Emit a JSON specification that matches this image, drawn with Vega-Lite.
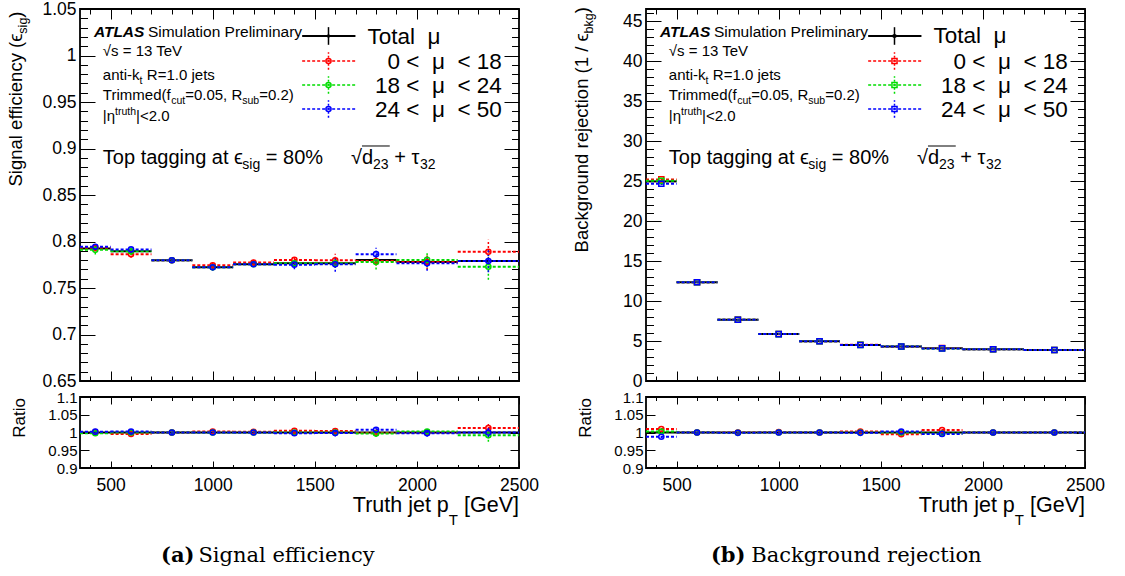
{
"$schema":"https://vega.github.io/schema/vega-lite/v6.json",
"background":"white",
"padding":{"left":6,"top":-1,"right":0,"bottom":0},
"datasets":{
"sig":[
{"s":"Total","x":425,"x0":350,"x1":500,"y":0.7925,"lo":0.7905,"hi":0.7945,"r":1,"rlo":1,"rhi":1},
{"s":"Total","x":600,"x0":500,"x1":700,"y":0.7895,"lo":0.7875,"hi":0.7915,"r":1,"rlo":1,"rhi":1},
{"s":"Total","x":800,"x0":700,"x1":900,"y":0.7798,"lo":0.7778,"hi":0.7818,"r":1,"rlo":1,"rhi":1},
{"s":"Total","x":1000,"x0":900,"x1":1100,"y":0.7722,"lo":0.7702,"hi":0.7742,"r":1,"rlo":1,"rhi":1},
{"s":"Total","x":1200,"x0":1100,"x1":1300,"y":0.7755,"lo":0.7735,"hi":0.7775,"r":1,"rlo":1,"rhi":1},
{"s":"Total","x":1400,"x0":1300,"x1":1500,"y":0.7765,"lo":0.7745,"hi":0.7785,"r":1,"rlo":1,"rhi":1},
{"s":"Total","x":1600,"x0":1500,"x1":1700,"y":0.7765,"lo":0.7735,"hi":0.7795,"r":1,"rlo":1,"rhi":1},
{"s":"Total","x":1800,"x0":1700,"x1":1900,"y":0.7802,"lo":0.7772,"hi":0.7832,"r":1,"rlo":1,"rhi":1},
{"s":"Total","x":2050,"x0":1900,"x1":2200,"y":0.778,"lo":0.775,"hi":0.781,"r":1,"rlo":1,"rhi":1},
{"s":"Total","x":2350,"x0":2200,"x1":2500,"y":0.7791,"lo":0.7751,"hi":0.7831,"r":1,"rlo":1,"rhi":1},
{"s":"0-18","x":425,"x0":350,"x1":500,"y":0.7933,"lo":0.7893,"hi":0.7973,"r":1.001,"rlo":0.996,"rhi":1.006},
{"s":"0-18","x":600,"x0":500,"x1":700,"y":0.7864,"lo":0.7824,"hi":0.7904,"r":0.9961,"rlo":0.9911,"rhi":1.0011},
{"s":"0-18","x":800,"x0":700,"x1":900,"y":0.7798,"lo":0.7768,"hi":0.7828,"r":1.0,"rlo":0.996,"rhi":1.004},
{"s":"0-18","x":1000,"x0":900,"x1":1100,"y":0.7744,"lo":0.7714,"hi":0.7774,"r":1.0028,"rlo":0.9988,"rhi":1.0068},
{"s":"0-18","x":1200,"x0":1100,"x1":1300,"y":0.7773,"lo":0.7743,"hi":0.7803,"r":1.0023,"rlo":0.9983,"rhi":1.0063},
{"s":"0-18","x":1400,"x0":1300,"x1":1500,"y":0.7802,"lo":0.7762,"hi":0.7842,"r":1.0048,"rlo":0.9998,"rhi":1.0098},
{"s":"0-18","x":1600,"x0":1500,"x1":1700,"y":0.7798,"lo":0.7728,"hi":0.7868,"r":1.0042,"rlo":0.9952,"rhi":1.0132},
{"s":"0-18","x":1800,"x0":1700,"x1":1900,"y":0.7791,"lo":0.7741,"hi":0.7841,"r":0.9986,"rlo":0.9926,"rhi":1.0046},
{"s":"0-18","x":2050,"x0":1900,"x1":2200,"y":0.778,"lo":0.77,"hi":0.786,"r":1.0,"rlo":0.99,"rhi":1.01},
{"s":"0-18","x":2350,"x0":2200,"x1":2500,"y":0.7889,"lo":0.7759,"hi":0.8019,"r":1.0126,"rlo":0.9956,"rhi":1.0296},
{"s":"18-24","x":425,"x0":350,"x1":500,"y":0.791,"lo":0.786,"hi":0.796,"r":0.998,"rlo":0.992,"rhi":1.004},
{"s":"18-24","x":600,"x0":500,"x1":700,"y":0.7895,"lo":0.7855,"hi":0.7935,"r":1.0,"rlo":0.995,"rhi":1.005},
{"s":"18-24","x":800,"x0":700,"x1":900,"y":0.7798,"lo":0.7768,"hi":0.7828,"r":1.0,"rlo":0.996,"rhi":1.004},
{"s":"18-24","x":1000,"x0":900,"x1":1100,"y":0.7722,"lo":0.7692,"hi":0.7752,"r":1.0,"rlo":0.996,"rhi":1.004},
{"s":"18-24","x":1200,"x0":1100,"x1":1300,"y":0.7755,"lo":0.7725,"hi":0.7785,"r":1.0,"rlo":0.996,"rhi":1.004},
{"s":"18-24","x":1400,"x0":1300,"x1":1500,"y":0.7765,"lo":0.7725,"hi":0.7805,"r":1.0,"rlo":0.995,"rhi":1.005},
{"s":"18-24","x":1600,"x0":1500,"x1":1700,"y":0.7765,"lo":0.7715,"hi":0.7815,"r":1.0,"rlo":0.994,"rhi":1.006},
{"s":"18-24","x":1800,"x0":1700,"x1":1900,"y":0.778,"lo":0.77,"hi":0.786,"r":0.9972,"rlo":0.9872,"rhi":1.0072},
{"s":"18-24","x":2050,"x0":1900,"x1":2200,"y":0.7802,"lo":0.7722,"hi":0.7882,"r":1.0028,"rlo":0.9928,"rhi":1.0128},
{"s":"18-24","x":2350,"x0":2200,"x1":2500,"y":0.7729,"lo":0.7589,"hi":0.7869,"r":0.992,"rlo":0.974,"rhi":1.01},
{"s":"24-50","x":425,"x0":350,"x1":500,"y":0.7944,"lo":0.7904,"hi":0.7984,"r":1.0024,"rlo":0.9974,"rhi":1.0074},
{"s":"24-50","x":600,"x0":500,"x1":700,"y":0.7915,"lo":0.7875,"hi":0.7955,"r":1.0025,"rlo":0.9975,"rhi":1.0075},
{"s":"24-50","x":800,"x0":700,"x1":900,"y":0.7798,"lo":0.7768,"hi":0.7828,"r":1.0,"rlo":0.996,"rhi":1.004},
{"s":"24-50","x":1000,"x0":900,"x1":1100,"y":0.7722,"lo":0.7692,"hi":0.7752,"r":1.0,"rlo":0.996,"rhi":1.004},
{"s":"24-50","x":1200,"x0":1100,"x1":1300,"y":0.7755,"lo":0.7725,"hi":0.7785,"r":1.0,"rlo":0.996,"rhi":1.004},
{"s":"24-50","x":1400,"x0":1300,"x1":1500,"y":0.7751,"lo":0.7701,"hi":0.7801,"r":0.9982,"rlo":0.9922,"rhi":1.0042},
{"s":"24-50","x":1600,"x0":1500,"x1":1700,"y":0.7755,"lo":0.7675,"hi":0.7835,"r":0.9987,"rlo":0.9887,"rhi":1.0087},
{"s":"24-50","x":1800,"x0":1700,"x1":1900,"y":0.7864,"lo":0.7794,"hi":0.7934,"r":1.0079,"rlo":0.9989,"rhi":1.0169},
{"s":"24-50","x":2050,"x0":1900,"x1":2200,"y":0.7765,"lo":0.7685,"hi":0.7845,"r":0.9981,"rlo":0.9881,"rhi":1.0081},
{"s":"24-50","x":2350,"x0":2200,"x1":2500,"y":0.7789,"lo":0.7669,"hi":0.7909,"r":0.9997,"rlo":0.9847,"rhi":1.0147}
],
"rej":[
{"s":"Total","x":425,"x0":350,"x1":500,"y":24.95,"lo":24.87,"hi":25.03,"r":1,"rlo":1,"rhi":1},
{"s":"Total","x":600,"x0":500,"x1":700,"y":12.35,"lo":12.31,"hi":12.39,"r":1,"rlo":1,"rhi":1},
{"s":"Total","x":800,"x0":700,"x1":900,"y":7.67,"lo":7.64,"hi":7.7,"r":1,"rlo":1,"rhi":1},
{"s":"Total","x":1000,"x0":900,"x1":1100,"y":5.86,"lo":5.84,"hi":5.88,"r":1,"rlo":1,"rhi":1},
{"s":"Total","x":1200,"x0":1100,"x1":1300,"y":4.97,"lo":4.95,"hi":4.99,"r":1,"rlo":1,"rhi":1},
{"s":"Total","x":1400,"x0":1300,"x1":1500,"y":4.51,"lo":4.49,"hi":4.53,"r":1,"rlo":1,"rhi":1},
{"s":"Total","x":1600,"x0":1500,"x1":1700,"y":4.3,"lo":4.28,"hi":4.32,"r":1,"rlo":1,"rhi":1},
{"s":"Total","x":1800,"x0":1700,"x1":1900,"y":4.09,"lo":4.07,"hi":4.11,"r":1,"rlo":1,"rhi":1},
{"s":"Total","x":2050,"x0":1900,"x1":2200,"y":3.96,"lo":3.94,"hi":3.98,"r":1,"rlo":1,"rhi":1},
{"s":"Total","x":2350,"x0":2200,"x1":2500,"y":3.88,"lo":3.86,"hi":3.9,"r":1,"rlo":1,"rhi":1},
{"s":"0-18","x":425,"x0":350,"x1":500,"y":25.2,"lo":25.05,"hi":25.35,"r":1.01,"rlo":1.006,"rhi":1.014},
{"s":"0-18","x":600,"x0":500,"x1":700,"y":12.35,"lo":12.27,"hi":12.43,"r":1.0,"rlo":0.996,"rhi":1.004},
{"s":"0-18","x":800,"x0":700,"x1":900,"y":7.67,"lo":7.62,"hi":7.72,"r":1.0,"rlo":0.996,"rhi":1.004},
{"s":"0-18","x":1000,"x0":900,"x1":1100,"y":5.866,"lo":5.826,"hi":5.906,"r":1.001,"rlo":0.997,"rhi":1.005},
{"s":"0-18","x":1200,"x0":1100,"x1":1300,"y":4.97,"lo":4.94,"hi":5.0,"r":1.0,"rlo":0.996,"rhi":1.004},
{"s":"0-18","x":1400,"x0":1300,"x1":1500,"y":4.524,"lo":4.494,"hi":4.554,"r":1.003,"rlo":0.999,"rhi":1.007},
{"s":"0-18","x":1600,"x0":1500,"x1":1700,"y":4.279,"lo":4.249,"hi":4.309,"r":0.995,"rlo":0.991,"rhi":0.999},
{"s":"0-18","x":1800,"x0":1700,"x1":1900,"y":4.119,"lo":4.089,"hi":4.149,"r":1.007,"rlo":1.003,"rhi":1.011},
{"s":"0-18","x":2050,"x0":1900,"x1":2200,"y":3.96,"lo":3.93,"hi":3.99,"r":1.0,"rlo":0.996,"rhi":1.004},
{"s":"0-18","x":2350,"x0":2200,"x1":2500,"y":3.88,"lo":3.85,"hi":3.91,"r":1.0,"rlo":0.996,"rhi":1.004},
{"s":"18-24","x":425,"x0":350,"x1":500,"y":25.02,"lo":24.87,"hi":25.17,"r":1.003,"rlo":0.999,"rhi":1.007},
{"s":"18-24","x":600,"x0":500,"x1":700,"y":12.35,"lo":12.27,"hi":12.43,"r":1.0,"rlo":0.996,"rhi":1.004},
{"s":"18-24","x":800,"x0":700,"x1":900,"y":7.662,"lo":7.612,"hi":7.712,"r":0.999,"rlo":0.995,"rhi":1.003},
{"s":"18-24","x":1000,"x0":900,"x1":1100,"y":5.86,"lo":5.82,"hi":5.9,"r":1.0,"rlo":0.996,"rhi":1.004},
{"s":"18-24","x":1200,"x0":1100,"x1":1300,"y":4.97,"lo":4.94,"hi":5.0,"r":1.0,"rlo":0.996,"rhi":1.004},
{"s":"18-24","x":1400,"x0":1300,"x1":1500,"y":4.51,"lo":4.48,"hi":4.54,"r":1.0,"rlo":0.996,"rhi":1.004},
{"s":"18-24","x":1600,"x0":1500,"x1":1700,"y":4.3,"lo":4.27,"hi":4.33,"r":1.0,"rlo":0.996,"rhi":1.004},
{"s":"18-24","x":1800,"x0":1700,"x1":1900,"y":4.078,"lo":4.048,"hi":4.108,"r":0.997,"rlo":0.993,"rhi":1.001},
{"s":"18-24","x":2050,"x0":1900,"x1":2200,"y":3.96,"lo":3.93,"hi":3.99,"r":1.0,"rlo":0.996,"rhi":1.004},
{"s":"18-24","x":2350,"x0":2200,"x1":2500,"y":3.88,"lo":3.85,"hi":3.91,"r":1.0,"rlo":0.996,"rhi":1.004},
{"s":"24-50","x":425,"x0":350,"x1":500,"y":24.65,"lo":24.5,"hi":24.8,"r":0.988,"rlo":0.984,"rhi":0.992},
{"s":"24-50","x":600,"x0":500,"x1":700,"y":12.35,"lo":12.27,"hi":12.43,"r":1.0,"rlo":0.996,"rhi":1.004},
{"s":"24-50","x":800,"x0":700,"x1":900,"y":7.662,"lo":7.612,"hi":7.712,"r":0.999,"rlo":0.995,"rhi":1.003},
{"s":"24-50","x":1000,"x0":900,"x1":1100,"y":5.86,"lo":5.82,"hi":5.9,"r":1.0,"rlo":0.996,"rhi":1.004},
{"s":"24-50","x":1200,"x0":1100,"x1":1300,"y":4.97,"lo":4.94,"hi":5.0,"r":1.0,"rlo":0.996,"rhi":1.004},
{"s":"24-50","x":1400,"x0":1300,"x1":1500,"y":4.505,"lo":4.475,"hi":4.535,"r":0.999,"rlo":0.995,"rhi":1.003},
{"s":"24-50","x":1600,"x0":1500,"x1":1700,"y":4.313,"lo":4.283,"hi":4.343,"r":1.003,"rlo":0.999,"rhi":1.007},
{"s":"24-50","x":1800,"x0":1700,"x1":1900,"y":4.074,"lo":4.044,"hi":4.104,"r":0.996,"rlo":0.992,"rhi":1.0},
{"s":"24-50","x":2050,"x0":1900,"x1":2200,"y":3.96,"lo":3.93,"hi":3.99,"r":1.0,"rlo":0.996,"rhi":1.004},
{"s":"24-50","x":2350,"x0":2200,"x1":2500,"y":3.88,"lo":3.85,"hi":3.91,"r":1.0,"rlo":0.996,"rhi":1.004}
]
},
"columns":2,
"spacing":{"row":16,"column":127},
"bounds":"flush",
"align":"each",
"concat":[
{"width":439,"height":372,"data":{"values":[{}]},
"resolve":{"axis":{"x":"independent","y":"independent"}},
"layer":[
{"data":{"name":"sig"},"transform":[{"filter":"datum.s=='Total'"}],"mark":{"type":"rule","color":"black","strokeWidth":2},
"encoding":{"x":{"field":"x0","type":"quantitative","scale":{"domain":[350,2500],"nice":false,"zero":false},"axis":{"orient":"bottom","values":[500,1000,1500,2000,2500],"labels":false,"tickSize":-10}},"x2":{"field":"x1"},
"y":{"field":"y","type":"quantitative","scale":{"domain":[0.65,1.05],"nice":false,"zero":false},"axis":{"orient":"left","values":[0.65,0.7,0.75,0.8,0.85,0.9,0.95,1,1.05],"ticks":false,"labelPadding":4}}}},
{"data":{"name":"sig"},"transform":[{"filter":"datum.s=='Total'"}],"mark":{"type":"rule","color":"black","strokeWidth":1.5},
"encoding":{"x":{"field":"x","type":"quantitative","scale":{"domain":[350,2500],"nice":false,"zero":false},"axis":{"orient":"top","values":[500,1000,1500,2000,2500],"labels":false,"tickSize":-10}},
"y":{"field":"lo","type":"quantitative","scale":{"domain":[0.65,1.05],"nice":false,"zero":false},"axis":{"orient":"left","values":[0.65,0.7,0.75,0.8,0.85,0.9,0.95,1,1.05],"labels":false,"tickSize":-15}},"y2":{"field":"hi"}}},
{"data":{"name":"sig"},"transform":[{"filter":"datum.s!='Total'"}],"mark":{"type":"rule","strokeWidth":2,"strokeDash":[3,2]},
"encoding":{"x":{"field":"x0","type":"quantitative","scale":{"domain":[350,2500],"nice":false,"zero":false},"axis":{"orient":"bottom","values":[400,600,700,800,900,1100,1200,1300,1400,1600,1700,1800,1900,2100,2200,2300,2400],"labels":false,"tickSize":-5}},"x2":{"field":"x1"},
"y":{"field":"y","type":"quantitative","scale":{"domain":[0.65,1.05],"nice":false,"zero":false},"axis":{"orient":"right","values":[0.65,0.7,0.75,0.8,0.85,0.9,0.95,1,1.05],"labels":false,"tickSize":-15}},
"color":{"field":"s","type":"nominal","scale":{"domain":["Total","0-18","18-24","24-50"],"range":["#000000","#ff0000","#00dd00","#0000ff"]},"legend":null}}},
{"data":{"name":"sig"},"transform":[{"filter":"datum.s!='Total'"}],"mark":{"type":"rule","strokeWidth":1.5,"strokeDash":[2,2]},
"encoding":{"x":{"field":"x","type":"quantitative","scale":{"domain":[350,2500],"nice":false,"zero":false},"axis":{"orient":"top","values":[400,600,700,800,900,1100,1200,1300,1400,1600,1700,1800,1900,2100,2200,2300,2400],"labels":false,"tickSize":-5}},
"y":{"field":"lo","type":"quantitative","scale":{"domain":[0.65,1.05],"nice":false,"zero":false},"axis":{"orient":"left","values":[0.66,0.67,0.68,0.69,0.71,0.72,0.73,0.74,0.76,0.77,0.78,0.79,0.81,0.82,0.83,0.84,0.86,0.87,0.88,0.89,0.91,0.92,0.93,0.94,0.96,0.97,0.98,0.99,1.01,1.02,1.03,1.04],"labels":false,"tickSize":-7.5}},"y2":{"field":"hi"},
"color":{"field":"s","type":"nominal","scale":{"domain":["Total","0-18","18-24","24-50"],"range":["#000000","#ff0000","#00dd00","#0000ff"]},"legend":null}}},
{"data":{"name":"sig"},"transform":[{"filter":"datum.s!='Total'"}],"mark":{"type":"point","shape":"circle","filled":false,"size":26,"strokeWidth":1.5,"opacity":1},
"encoding":{"x":{"field":"x","type":"quantitative","scale":{"domain":[350,2500],"nice":false,"zero":false},"axis":null},
"y":{"field":"y","type":"quantitative","scale":{"domain":[0.65,1.05],"nice":false,"zero":false},"axis":{"orient":"right","values":[0.66,0.67,0.68,0.69,0.71,0.72,0.73,0.74,0.76,0.77,0.78,0.79,0.81,0.82,0.83,0.84,0.86,0.87,0.88,0.89,0.91,0.92,0.93,0.94,0.96,0.97,0.98,0.99,1.01,1.02,1.03,1.04],"labels":false,"tickSize":-7.5}},
"color":{"field":"s","type":"nominal","scale":{"domain":["Total","0-18","18-24","24-50"],"range":["#000000","#ff0000","#00dd00","#0000ff"]},"legend":null}}},
{"mark":{"type":"text","text":"ATLAS","fontSize":15.5,"fontWeight":"bold","fontStyle":"italic"},"encoding":{"x":{"datum":418,"axis":null},"y":{"datum":1.0195,"axis":null}}},
{"mark":{"type":"text","text":"Simulation Preliminary","fontSize":15.5,"dx":54},"encoding":{"x":{"datum":418,"axis":null},"y":{"datum":1.0195,"axis":null}}},
{"mark":{"type":"text","text":"√s = 13 TeV","fontSize":15},"encoding":{"x":{"datum":462,"axis":null},"y":{"datum":0.999,"axis":null}}},
{"mark":{"type":"text","text":"anti-k","fontSize":15},"encoding":{"x":{"datum":462,"axis":null},"y":{"datum":0.9732,"axis":null}}},
{"mark":{"type":"text","text":"t","fontSize":10.5,"dx":36.7,"dy":4},"encoding":{"x":{"datum":462,"axis":null},"y":{"datum":0.9732,"axis":null}}},
{"mark":{"type":"text","text":"R=1.0 jets","fontSize":15,"dx":44},"encoding":{"x":{"datum":462,"axis":null},"y":{"datum":0.9732,"axis":null}}},
{"mark":{"type":"text","text":"Trimmed(f","fontSize":15},"encoding":{"x":{"datum":462,"axis":null},"y":{"datum":0.9517,"axis":null}}},
{"mark":{"type":"text","text":"cut","fontSize":10.5,"dx":68.3,"dy":4},"encoding":{"x":{"datum":462,"axis":null},"y":{"datum":0.9517,"axis":null}}},
{"mark":{"type":"text","text":"=0.05, R","fontSize":15,"dx":82.3},"encoding":{"x":{"datum":462,"axis":null},"y":{"datum":0.9517,"axis":null}}},
{"mark":{"type":"text","text":"sub","fontSize":10.5,"dx":139.4,"dy":4},"encoding":{"x":{"datum":462,"axis":null},"y":{"datum":0.9517,"axis":null}}},
{"mark":{"type":"text","text":"=0.2)","fontSize":15,"dx":156.3},"encoding":{"x":{"datum":462,"axis":null},"y":{"datum":0.9517,"axis":null}}},
{"mark":{"type":"text","text":"|η","fontSize":15},"encoding":{"x":{"datum":462,"axis":null},"y":{"datum":0.9291,"axis":null}}},
{"mark":{"type":"text","text":"truth","fontSize":10.5,"dx":12.2,"dy":-6},"encoding":{"x":{"datum":462,"axis":null},"y":{"datum":0.9291,"axis":null}}},
{"mark":{"type":"text","text":"|<2.0","fontSize":15,"dx":33.2},"encoding":{"x":{"datum":462,"axis":null},"y":{"datum":0.9291,"axis":null}}},
{"mark":{"type":"text","text":"Top tagging at ϵ","fontSize":20},"encoding":{"x":{"datum":462,"axis":null},"y":{"datum":0.8831,"axis":null}}},
{"mark":{"type":"text","text":"sig","fontSize":14,"dx":139.5,"dy":5},"encoding":{"x":{"datum":462,"axis":null},"y":{"datum":0.8831,"axis":null}}},
{"mark":{"type":"text","text":"= 80%","fontSize":20,"dx":163},"encoding":{"x":{"datum":462,"axis":null},"y":{"datum":0.8831,"axis":null}}},
{"mark":{"type":"text","text":"√d","fontSize":20},"encoding":{"x":{"datum":1677,"axis":null},"y":{"datum":0.8831,"axis":null}}},
{"mark":{"type":"text","text":"23","fontSize":14,"dx":22.1,"dy":5},"encoding":{"x":{"datum":1677,"axis":null},"y":{"datum":0.8831,"axis":null}}},
{"mark":{"type":"text","text":"+ τ","fontSize":20,"dx":43.3},"encoding":{"x":{"datum":1677,"axis":null},"y":{"datum":0.8831,"axis":null}}},
{"mark":{"type":"text","text":"32","fontSize":14,"dx":69.1,"dy":5},"encoding":{"x":{"datum":1677,"axis":null},"y":{"datum":0.8831,"axis":null}}},
{"mark":{"type":"rule","color":"black","strokeWidth":1},"encoding":{"x":{"datum":1731,"axis":null},"x2":{"datum":1867},"y":{"datum":0.9027,"axis":null}}},
{"mark":{"type":"rule","color":"black","strokeWidth":2},"encoding":{"x":{"datum":1438,"axis":null},"x2":{"datum":1699},"y":{"datum":1.021,"axis":null}}},
{"mark":{"type":"rule","color":"black","strokeWidth":1.5},"encoding":{"x":{"datum":1567,"axis":null},"y":{"datum":1.0115,"axis":null},"y2":{"datum":1.0305}}},
{"mark":{"type":"point","shape":"circle","filled":true,"color":"black","size":12,"opacity":1},"encoding":{"x":{"datum":1567,"axis":null},"y":{"datum":1.021,"axis":null}}},
{"mark":{"type":"text","text":"Total\u00a0\u00a0μ","fontSize":22.5},"encoding":{"x":{"datum":1758,"axis":null},"y":{"datum":1.0129,"axis":null}}},
{"mark":{"type":"rule","color":"#ff0000","strokeWidth":1.5,"strokeDash":[3,2]},"encoding":{"x":{"datum":1438,"axis":null},"x2":{"datum":1699},"y":{"datum":0.9941,"axis":null}}},
{"mark":{"type":"rule","color":"#ff0000","strokeWidth":1.5,"strokeDash":[2,2]},"encoding":{"x":{"datum":1567,"axis":null},"y":{"datum":0.9846,"axis":null},"y2":{"datum":1.0036}}},
{"mark":{"type":"point","shape":"circle","filled":false,"color":"#ff0000","size":26,"strokeWidth":1.5,"opacity":1},"encoding":{"x":{"datum":1567,"axis":null},"y":{"datum":0.9941,"axis":null}}},
{"mark":{"type":"text","text":"0 <\u00a0\u00a0μ\u00a0\u00a0< 18","fontSize":22.5,"align":"right"},"encoding":{"x":{"datum":2416,"axis":null},"y":{"datum":0.986,"axis":null}}},
{"mark":{"type":"rule","color":"#00dd00","strokeWidth":1.5,"strokeDash":[3,2]},"encoding":{"x":{"datum":1438,"axis":null},"x2":{"datum":1699},"y":{"datum":0.9683,"axis":null}}},
{"mark":{"type":"rule","color":"#00dd00","strokeWidth":1.5,"strokeDash":[2,2]},"encoding":{"x":{"datum":1567,"axis":null},"y":{"datum":0.9588,"axis":null},"y2":{"datum":0.9778}}},
{"mark":{"type":"point","shape":"circle","filled":false,"color":"#00dd00","size":26,"strokeWidth":1.5,"opacity":1},"encoding":{"x":{"datum":1567,"axis":null},"y":{"datum":0.9683,"axis":null}}},
{"mark":{"type":"text","text":"18 <\u00a0\u00a0μ\u00a0\u00a0< 24","fontSize":22.5,"align":"right"},"encoding":{"x":{"datum":2416,"axis":null},"y":{"datum":0.9602,"axis":null}}},
{"mark":{"type":"rule","color":"#0000ff","strokeWidth":1.5,"strokeDash":[3,2]},"encoding":{"x":{"datum":1438,"axis":null},"x2":{"datum":1699},"y":{"datum":0.9425,"axis":null}}},
{"mark":{"type":"rule","color":"#0000ff","strokeWidth":1.5,"strokeDash":[2,2]},"encoding":{"x":{"datum":1567,"axis":null},"y":{"datum":0.933,"axis":null},"y2":{"datum":0.952}}},
{"mark":{"type":"point","shape":"circle","filled":false,"color":"#0000ff","size":26,"strokeWidth":1.5,"opacity":1},"encoding":{"x":{"datum":1567,"axis":null},"y":{"datum":0.9425,"axis":null}}},
{"mark":{"type":"text","text":"24 <\u00a0\u00a0μ\u00a0\u00a0< 50","fontSize":22.5,"align":"right"},"encoding":{"x":{"datum":2416,"axis":null},"y":{"datum":0.9344,"axis":null}}},
{"mark":{"type":"text","text":"Signal efficiency (ϵ","fontSize":18.5,"angle":270,"align":"right"},"encoding":{"x":{"datum":66,"axis":null},"y":{"datum":1.0235,"axis":null}}},
{"mark":{"type":"text","text":"sig","fontSize":12.5,"angle":270,"align":"left","dy":4.5},"encoding":{"x":{"datum":66,"axis":null},"y":{"datum":1.0235,"axis":null}}},
{"mark":{"type":"text","text":")","fontSize":18.5,"angle":270,"align":"left","dx":16},"encoding":{"x":{"datum":66,"axis":null},"y":{"datum":1.0235,"axis":null}}}
]},
{"width":439,"height":372,"data":{"values":[{}]},
"resolve":{"axis":{"x":"independent","y":"independent"}},
"layer":[
{"data":{"name":"rej"},"transform":[{"filter":"datum.s=='Total'"}],"mark":{"type":"rule","color":"black","strokeWidth":2},
"encoding":{"x":{"field":"x0","type":"quantitative","scale":{"domain":[350,2500],"nice":false,"zero":false},"axis":{"orient":"bottom","values":[500,1000,1500,2000,2500],"labels":false,"tickSize":-10}},"x2":{"field":"x1"},
"y":{"field":"y","type":"quantitative","scale":{"domain":[0,46.5],"nice":false,"zero":false},"axis":{"orient":"left","values":[0,5,10,15,20,25,30,35,40,45],"ticks":false,"labelPadding":4}}}},
{"data":{"name":"rej"},"transform":[{"filter":"datum.s=='Total'"}],"mark":{"type":"rule","color":"black","strokeWidth":1.5},
"encoding":{"x":{"field":"x","type":"quantitative","scale":{"domain":[350,2500],"nice":false,"zero":false},"axis":{"orient":"top","values":[500,1000,1500,2000,2500],"labels":false,"tickSize":-10}},
"y":{"field":"lo","type":"quantitative","scale":{"domain":[0,46.5],"nice":false,"zero":false},"axis":{"orient":"left","values":[0,5,10,15,20,25,30,35,40,45],"labels":false,"tickSize":-15}},"y2":{"field":"hi"}}},
{"data":{"name":"rej"},"transform":[{"filter":"datum.s!='Total'"}],"mark":{"type":"rule","strokeWidth":2,"strokeDash":[3,2]},
"encoding":{"x":{"field":"x0","type":"quantitative","scale":{"domain":[350,2500],"nice":false,"zero":false},"axis":{"orient":"bottom","values":[400,600,700,800,900,1100,1200,1300,1400,1600,1700,1800,1900,2100,2200,2300,2400],"labels":false,"tickSize":-5}},"x2":{"field":"x1"},
"y":{"field":"y","type":"quantitative","scale":{"domain":[0,46.5],"nice":false,"zero":false},"axis":{"orient":"right","values":[0,5,10,15,20,25,30,35,40,45],"labels":false,"tickSize":-15}},
"color":{"field":"s","type":"nominal","scale":{"domain":["Total","0-18","18-24","24-50"],"range":["#000000","#ff0000","#00dd00","#0000ff"]},"legend":null}}},
{"data":{"name":"rej"},"transform":[{"filter":"datum.s!='Total'"}],"mark":{"type":"rule","strokeWidth":1.5,"strokeDash":[2,2]},
"encoding":{"x":{"field":"x","type":"quantitative","scale":{"domain":[350,2500],"nice":false,"zero":false},"axis":{"orient":"top","values":[400,600,700,800,900,1100,1200,1300,1400,1600,1700,1800,1900,2100,2200,2300,2400],"labels":false,"tickSize":-5}},
"y":{"field":"lo","type":"quantitative","scale":{"domain":[0,46.5],"nice":false,"zero":false},"axis":{"orient":"left","values":[1,2,3,4,6,7,8,9,11,12,13,14,16,17,18,19,21,22,23,24,26,27,28,29,31,32,33,34,36,37,38,39,41,42,43,44,46],"labels":false,"tickSize":-7.5}},"y2":{"field":"hi"},
"color":{"field":"s","type":"nominal","scale":{"domain":["Total","0-18","18-24","24-50"],"range":["#000000","#ff0000","#00dd00","#0000ff"]},"legend":null}}},
{"data":{"name":"rej"},"transform":[{"filter":"datum.s!='Total'"}],"mark":{"type":"point","shape":"square","filled":false,"size":26,"strokeWidth":1.5,"opacity":1},
"encoding":{"x":{"field":"x","type":"quantitative","scale":{"domain":[350,2500],"nice":false,"zero":false},"axis":null},
"y":{"field":"y","type":"quantitative","scale":{"domain":[0,46.5],"nice":false,"zero":false},"axis":{"orient":"right","values":[1,2,3,4,6,7,8,9,11,12,13,14,16,17,18,19,21,22,23,24,26,27,28,29,31,32,33,34,36,37,38,39,41,42,43,44,46],"labels":false,"tickSize":-7.5}},
"color":{"field":"s","type":"nominal","scale":{"domain":["Total","0-18","18-24","24-50"],"range":["#000000","#ff0000","#00dd00","#0000ff"]},"legend":null}}},
{"mark":{"type":"text","text":"ATLAS","fontSize":15.5,"fontWeight":"bold","fontStyle":"italic"},"encoding":{"x":{"datum":418,"axis":null},"y":{"datum":42.95,"axis":null}}},
{"mark":{"type":"text","text":"Simulation Preliminary","fontSize":15.5,"dx":54},"encoding":{"x":{"datum":418,"axis":null},"y":{"datum":42.95,"axis":null}}},
{"mark":{"type":"text","text":"√s = 13 TeV","fontSize":15},"encoding":{"x":{"datum":462,"axis":null},"y":{"datum":40.575,"axis":null}}},
{"mark":{"type":"text","text":"anti-k","fontSize":15},"encoding":{"x":{"datum":462,"axis":null},"y":{"datum":37.575,"axis":null}}},
{"mark":{"type":"text","text":"t","fontSize":10.5,"dx":36.7,"dy":4},"encoding":{"x":{"datum":462,"axis":null},"y":{"datum":37.575,"axis":null}}},
{"mark":{"type":"text","text":"R=1.0 jets","fontSize":15,"dx":44},"encoding":{"x":{"datum":462,"axis":null},"y":{"datum":37.575,"axis":null}}},
{"mark":{"type":"text","text":"Trimmed(f","fontSize":15},"encoding":{"x":{"datum":462,"axis":null},"y":{"datum":35.075,"axis":null}}},
{"mark":{"type":"text","text":"cut","fontSize":10.5,"dx":68.3,"dy":4},"encoding":{"x":{"datum":462,"axis":null},"y":{"datum":35.075,"axis":null}}},
{"mark":{"type":"text","text":"=0.05, R","fontSize":15,"dx":82.3},"encoding":{"x":{"datum":462,"axis":null},"y":{"datum":35.075,"axis":null}}},
{"mark":{"type":"text","text":"sub","fontSize":10.5,"dx":139.4,"dy":4},"encoding":{"x":{"datum":462,"axis":null},"y":{"datum":35.075,"axis":null}}},
{"mark":{"type":"text","text":"=0.2)","fontSize":15,"dx":156.3},"encoding":{"x":{"datum":462,"axis":null},"y":{"datum":35.075,"axis":null}}},
{"mark":{"type":"text","text":"|η","fontSize":15},"encoding":{"x":{"datum":462,"axis":null},"y":{"datum":32.45,"axis":null}}},
{"mark":{"type":"text","text":"truth","fontSize":10.5,"dx":12.2,"dy":-6},"encoding":{"x":{"datum":462,"axis":null},"y":{"datum":32.45,"axis":null}}},
{"mark":{"type":"text","text":"|<2.0","fontSize":15,"dx":33.2},"encoding":{"x":{"datum":462,"axis":null},"y":{"datum":32.45,"axis":null}}},
{"mark":{"type":"text","text":"Top tagging at ϵ","fontSize":20},"encoding":{"x":{"datum":462,"axis":null},"y":{"datum":27.1,"axis":null}}},
{"mark":{"type":"text","text":"sig","fontSize":14,"dx":139.5,"dy":5},"encoding":{"x":{"datum":462,"axis":null},"y":{"datum":27.1,"axis":null}}},
{"mark":{"type":"text","text":"= 80%","fontSize":20,"dx":163},"encoding":{"x":{"datum":462,"axis":null},"y":{"datum":27.1,"axis":null}}},
{"mark":{"type":"text","text":"√d","fontSize":20},"encoding":{"x":{"datum":1677,"axis":null},"y":{"datum":27.1,"axis":null}}},
{"mark":{"type":"text","text":"23","fontSize":14,"dx":22.1,"dy":5},"encoding":{"x":{"datum":1677,"axis":null},"y":{"datum":27.1,"axis":null}}},
{"mark":{"type":"text","text":"+ τ","fontSize":20,"dx":43.3},"encoding":{"x":{"datum":1677,"axis":null},"y":{"datum":27.1,"axis":null}}},
{"mark":{"type":"text","text":"32","fontSize":14,"dx":69.1,"dy":5},"encoding":{"x":{"datum":1677,"axis":null},"y":{"datum":27.1,"axis":null}}},
{"mark":{"type":"rule","color":"black","strokeWidth":1},"encoding":{"x":{"datum":1731,"axis":null},"x2":{"datum":1867},"y":{"datum":29.375,"axis":null}}},
{"mark":{"type":"rule","color":"black","strokeWidth":2},"encoding":{"x":{"datum":1438,"axis":null},"x2":{"datum":1699},"y":{"datum":43.125,"axis":null}}},
{"mark":{"type":"rule","color":"black","strokeWidth":1.5},"encoding":{"x":{"datum":1567,"axis":null},"y":{"datum":42.025,"axis":null},"y2":{"datum":44.225}}},
{"mark":{"type":"point","shape":"square","filled":true,"color":"black","size":12,"opacity":1},"encoding":{"x":{"datum":1567,"axis":null},"y":{"datum":43.125,"axis":null}}},
{"mark":{"type":"text","text":"Total\u00a0\u00a0μ","fontSize":22.5},"encoding":{"x":{"datum":1758,"axis":null},"y":{"datum":42.19,"axis":null}}},
{"mark":{"type":"rule","color":"#ff0000","strokeWidth":1.5,"strokeDash":[3,2]},"encoding":{"x":{"datum":1438,"axis":null},"x2":{"datum":1699},"y":{"datum":40.0,"axis":null}}},
{"mark":{"type":"rule","color":"#ff0000","strokeWidth":1.5,"strokeDash":[2,2]},"encoding":{"x":{"datum":1567,"axis":null},"y":{"datum":38.9,"axis":null},"y2":{"datum":41.1}}},
{"mark":{"type":"point","shape":"square","filled":false,"color":"#ff0000","size":26,"strokeWidth":1.5,"opacity":1},"encoding":{"x":{"datum":1567,"axis":null},"y":{"datum":40.0,"axis":null}}},
{"mark":{"type":"text","text":"0 <\u00a0\u00a0μ\u00a0\u00a0< 18","fontSize":22.5,"align":"right"},"encoding":{"x":{"datum":2416,"axis":null},"y":{"datum":39.06,"axis":null}}},
{"mark":{"type":"rule","color":"#00dd00","strokeWidth":1.5,"strokeDash":[3,2]},"encoding":{"x":{"datum":1438,"axis":null},"x2":{"datum":1699},"y":{"datum":37.0,"axis":null}}},
{"mark":{"type":"rule","color":"#00dd00","strokeWidth":1.5,"strokeDash":[2,2]},"encoding":{"x":{"datum":1567,"axis":null},"y":{"datum":35.9,"axis":null},"y2":{"datum":38.1}}},
{"mark":{"type":"point","shape":"square","filled":false,"color":"#00dd00","size":26,"strokeWidth":1.5,"opacity":1},"encoding":{"x":{"datum":1567,"axis":null},"y":{"datum":37.0,"axis":null}}},
{"mark":{"type":"text","text":"18 <\u00a0\u00a0μ\u00a0\u00a0< 24","fontSize":22.5,"align":"right"},"encoding":{"x":{"datum":2416,"axis":null},"y":{"datum":36.06,"axis":null}}},
{"mark":{"type":"rule","color":"#0000ff","strokeWidth":1.5,"strokeDash":[3,2]},"encoding":{"x":{"datum":1438,"axis":null},"x2":{"datum":1699},"y":{"datum":34.0,"axis":null}}},
{"mark":{"type":"rule","color":"#0000ff","strokeWidth":1.5,"strokeDash":[2,2]},"encoding":{"x":{"datum":1567,"axis":null},"y":{"datum":32.9,"axis":null},"y2":{"datum":35.1}}},
{"mark":{"type":"point","shape":"square","filled":false,"color":"#0000ff","size":26,"strokeWidth":1.5,"opacity":1},"encoding":{"x":{"datum":1567,"axis":null},"y":{"datum":34.0,"axis":null}}},
{"mark":{"type":"text","text":"24 <\u00a0\u00a0μ\u00a0\u00a0< 50","fontSize":22.5,"align":"right"},"encoding":{"x":{"datum":2416,"axis":null},"y":{"datum":33.06,"axis":null}}},
{"mark":{"type":"text","text":"Background rejection (1 / ϵ","fontSize":18.5,"angle":270,"align":"right"},"encoding":{"x":{"datum":66,"axis":null},"y":{"datum":43.45,"axis":null}}},
{"mark":{"type":"text","text":"bkg","fontSize":12.5,"angle":270,"align":"left","dy":4.5},"encoding":{"x":{"datum":66,"axis":null},"y":{"datum":43.45,"axis":null}}},
{"mark":{"type":"text","text":")","fontSize":18.5,"angle":270,"align":"left","dx":20.2},"encoding":{"x":{"datum":66,"axis":null},"y":{"datum":43.45,"axis":null}}}
]},
{"width":439,"height":71,"data":{"values":[{}]},
"resolve":{"axis":{"x":"independent","y":"independent"}},
"layer":[
{"data":{"name":"sig"},"transform":[{"filter":"datum.s=='Total'"}],"mark":{"type":"rule","color":"black","strokeWidth":2},
"encoding":{"x":{"field":"x0","type":"quantitative","scale":{"domain":[350,2500],"nice":false,"zero":false},"axis":{"orient":"bottom","values":[500,1000,1500,2000,2500],"ticks":false,"labelPadding":8}},"x2":{"field":"x1"},
"y":{"field":"r","type":"quantitative","scale":{"domain":[0.9,1.1],"nice":false,"zero":false},"axis":{"orient":"left","values":[0.9,0.95,1,1.05,1.1],"ticks":false,"labelPadding":3,"labelFontSize":15}}}},
{"data":{"name":"sig"},"transform":[{"filter":"datum.s!='Total'"}],"mark":{"type":"rule","strokeWidth":2,"strokeDash":[3,2]},
"encoding":{"x":{"field":"x0","type":"quantitative","scale":{"domain":[350,2500],"nice":false,"zero":false},"axis":{"orient":"bottom","values":[500,1000,1500,2000,2500],"labels":false,"tickSize":-7}},"x2":{"field":"x1"},
"y":{"field":"r","type":"quantitative","scale":{"domain":[0.9,1.1],"nice":false,"zero":false},"axis":{"orient":"left","values":[0.95,1,1.05],"labels":false,"tickSize":-9}},
"color":{"field":"s","type":"nominal","scale":{"domain":["Total","0-18","18-24","24-50"],"range":["#000000","#ff0000","#00dd00","#0000ff"]},"legend":null}}},
{"data":{"name":"sig"},"transform":[{"filter":"datum.s!='Total'"}],"mark":{"type":"rule","strokeWidth":1.5,"strokeDash":[2,2]},
"encoding":{"x":{"field":"x","type":"quantitative","scale":{"domain":[350,2500],"nice":false,"zero":false},"axis":{"orient":"top","values":[500,1000,1500,2000,2500],"labels":false,"tickSize":-7}},
"y":{"field":"rlo","type":"quantitative","scale":{"domain":[0.9,1.1],"nice":false,"zero":false},"axis":{"orient":"right","values":[0.95,1,1.05],"labels":false,"tickSize":-9}},"y2":{"field":"rhi"},
"color":{"field":"s","type":"nominal","scale":{"domain":["Total","0-18","18-24","24-50"],"range":["#000000","#ff0000","#00dd00","#0000ff"]},"legend":null}}},
{"data":{"name":"sig"},"transform":[{"filter":"datum.s!='Total'"}],"mark":{"type":"point","shape":"circle","filled":false,"size":26,"strokeWidth":1.5,"opacity":1},
"encoding":{"x":{"field":"x","type":"quantitative","scale":{"domain":[350,2500],"nice":false,"zero":false},"axis":{"orient":"bottom","values":[400,600,700,800,900,1100,1200,1300,1400,1600,1700,1800,1900,2100,2200,2300,2400],"labels":false,"tickSize":-3.5}},
"y":{"field":"r","type":"quantitative","scale":{"domain":[0.9,1.1],"nice":false,"zero":false},"axis":null},
"color":{"field":"s","type":"nominal","scale":{"domain":["Total","0-18","18-24","24-50"],"range":["#000000","#ff0000","#00dd00","#0000ff"]},"legend":null}}},
{"mark":{"type":"text","text":"Ratio","fontSize":17,"angle":270,"align":"right"},"encoding":{"x":{"datum":80.6,"axis":{"orient":"top","values":[400,600,700,800,900,1100,1200,1300,1400,1600,1700,1800,1900,2100,2200,2300,2400],"labels":false,"tickSize":-3.5}},"y":{"datum":1.0972,"axis":null}}},
{"mark":{"type":"text","text":"[GeV]","fontSize":21.5,"align":"right"},"encoding":{"x":{"datum":2500,"axis":null},"y":{"datum":0.776,"axis":null}}},
{"mark":{"type":"text","text":"T","fontSize":15,"align":"right","dx":-61,"dy":13},"encoding":{"x":{"datum":2500,"axis":null},"y":{"datum":0.776,"axis":null}}},
{"mark":{"type":"text","text":"Truth jet p","fontSize":21.5,"align":"right","dx":-70.2},"encoding":{"x":{"datum":2500,"axis":null},"y":{"datum":0.776,"axis":null}}},
{"mark":{"type":"text","text":"(a)","font":"DejaVu Serif","fontWeight":"bold","fontSize":21},"encoding":{"x":{"datum":747,"axis":null},"y":{"datum":0.6352,"axis":null}}},
{"mark":{"type":"text","text":"Signal efficiency","font":"DejaVu Serif","fontSize":21},"encoding":{"x":{"datum":930,"axis":null},"y":{"datum":0.6352,"axis":null}}}
]},
{"width":439,"height":71,"data":{"values":[{}]},
"resolve":{"axis":{"x":"independent","y":"independent"}},
"layer":[
{"data":{"name":"rej"},"transform":[{"filter":"datum.s=='Total'"}],"mark":{"type":"rule","color":"black","strokeWidth":2},
"encoding":{"x":{"field":"x0","type":"quantitative","scale":{"domain":[350,2500],"nice":false,"zero":false},"axis":{"orient":"bottom","values":[500,1000,1500,2000,2500],"ticks":false,"labelPadding":8}},"x2":{"field":"x1"},
"y":{"field":"r","type":"quantitative","scale":{"domain":[0.9,1.1],"nice":false,"zero":false},"axis":{"orient":"left","values":[0.9,0.95,1,1.05,1.1],"ticks":false,"labelPadding":3,"labelFontSize":15}}}},
{"data":{"name":"rej"},"transform":[{"filter":"datum.s!='Total'"}],"mark":{"type":"rule","strokeWidth":2,"strokeDash":[3,2]},
"encoding":{"x":{"field":"x0","type":"quantitative","scale":{"domain":[350,2500],"nice":false,"zero":false},"axis":{"orient":"bottom","values":[500,1000,1500,2000,2500],"labels":false,"tickSize":-7}},"x2":{"field":"x1"},
"y":{"field":"r","type":"quantitative","scale":{"domain":[0.9,1.1],"nice":false,"zero":false},"axis":{"orient":"left","values":[0.95,1,1.05],"labels":false,"tickSize":-9}},
"color":{"field":"s","type":"nominal","scale":{"domain":["Total","0-18","18-24","24-50"],"range":["#000000","#ff0000","#00dd00","#0000ff"]},"legend":null}}},
{"data":{"name":"rej"},"transform":[{"filter":"datum.s!='Total'"}],"mark":{"type":"rule","strokeWidth":1.5,"strokeDash":[2,2]},
"encoding":{"x":{"field":"x","type":"quantitative","scale":{"domain":[350,2500],"nice":false,"zero":false},"axis":{"orient":"top","values":[500,1000,1500,2000,2500],"labels":false,"tickSize":-7}},
"y":{"field":"rlo","type":"quantitative","scale":{"domain":[0.9,1.1],"nice":false,"zero":false},"axis":{"orient":"right","values":[0.95,1,1.05],"labels":false,"tickSize":-9}},"y2":{"field":"rhi"},
"color":{"field":"s","type":"nominal","scale":{"domain":["Total","0-18","18-24","24-50"],"range":["#000000","#ff0000","#00dd00","#0000ff"]},"legend":null}}},
{"data":{"name":"rej"},"transform":[{"filter":"datum.s!='Total'"}],"mark":{"type":"point","shape":"circle","filled":false,"size":26,"strokeWidth":1.5,"opacity":1},
"encoding":{"x":{"field":"x","type":"quantitative","scale":{"domain":[350,2500],"nice":false,"zero":false},"axis":{"orient":"bottom","values":[400,600,700,800,900,1100,1200,1300,1400,1600,1700,1800,1900,2100,2200,2300,2400],"labels":false,"tickSize":-3.5}},
"y":{"field":"r","type":"quantitative","scale":{"domain":[0.9,1.1],"nice":false,"zero":false},"axis":null},
"color":{"field":"s","type":"nominal","scale":{"domain":["Total","0-18","18-24","24-50"],"range":["#000000","#ff0000","#00dd00","#0000ff"]},"legend":null}}},
{"mark":{"type":"text","text":"Ratio","fontSize":17,"angle":270,"align":"right"},"encoding":{"x":{"datum":80.6,"axis":{"orient":"top","values":[400,600,700,800,900,1100,1200,1300,1400,1600,1700,1800,1900,2100,2200,2300,2400],"labels":false,"tickSize":-3.5}},"y":{"datum":1.0972,"axis":null}}},
{"mark":{"type":"text","text":"[GeV]","fontSize":21.5,"align":"right"},"encoding":{"x":{"datum":2500,"axis":null},"y":{"datum":0.776,"axis":null}}},
{"mark":{"type":"text","text":"T","fontSize":15,"align":"right","dx":-61,"dy":13},"encoding":{"x":{"datum":2500,"axis":null},"y":{"datum":0.776,"axis":null}}},
{"mark":{"type":"text","text":"Truth jet p","fontSize":21.5,"align":"right","dx":-70.2},"encoding":{"x":{"datum":2500,"axis":null},"y":{"datum":0.776,"axis":null}}},
{"mark":{"type":"text","text":"(b)","font":"DejaVu Serif","fontWeight":"bold","fontSize":21},"encoding":{"x":{"datum":668,"axis":null},"y":{"datum":0.6352,"axis":null}}},
{"mark":{"type":"text","text":"Background rejection","font":"DejaVu Serif","fontSize":21},"encoding":{"x":{"datum":866,"axis":null},"y":{"datum":0.6352,"axis":null}}}
]}
],
"config":{
"view":{"stroke":"black","strokeWidth":1.8},
"axis":{"domain":false,"grid":false,"tickColor":"black","tickWidth":1,"labelColor":"black","labelFont":"Liberation Sans","labelFontSize":17.5,"title":null,"labelFlush":false,"labelOverlap":false,"format":"~f"},
"text":{"font":"Liberation Sans","color":"black","baseline":"alphabetic","align":"left"}
}
}
